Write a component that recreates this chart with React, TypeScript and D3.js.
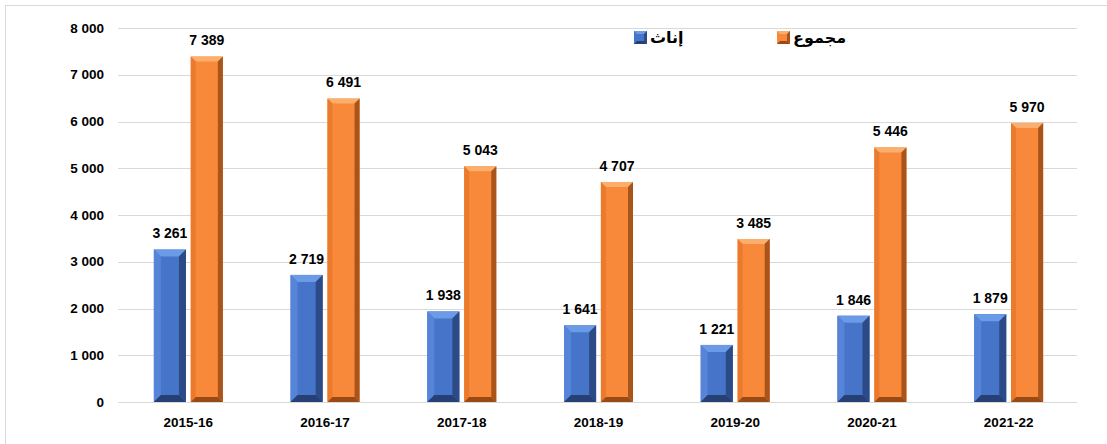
import { useEffect, useRef } from "react";
import * as d3 from "d3";

const years = ["2015-16", "2016-17", "2017-18", "2018-19", "2019-20", "2020-21", "2021-22"];
const females = [3261, 2719, 1938, 1641, 1221, 1846, 1879];
const totals = [7389, 6491, 5043, 4707, 3485, 5446, 5970];
const yTicks = [0, 1000, 2000, 3000, 4000, 5000, 6000, 7000, 8000];
const seriesNames = ["إناث", "مجموع"];

const W = 1107;
const H = 444;

// bevel palettes: face, top, left, right, bottom
const palettes = [
  { face: "#4674c8", top: "#6b9ae6", left: "#5684d8", right: "#2c4a86", bottom: "#263f74" },
  { face: "#f8883a", top: "#fcae6c", left: "#ec7a2c", right: "#a9541a", bottom: "#9a4a14" },
];

const fmt = (v: number) => d3.format(",")(v).replace(/,/g, " ");

export default function App() {
  const svgRef = useRef<SVGSVGElement>(null);

  useEffect(() => {
    if (!svgRef.current) return;
    const svg = d3.select(svgRef.current);
    svg.selectAll("*").remove();

    const margin = { top: 28, right: 30, bottom: 42, left: 120 };
    const font = "'Liberation Sans', 'DejaVu Sans', Arial, sans-serif";

    svg
      .append("rect")
      .attr("x", 5.5)
      .attr("y", 5.5)
      .attr("width", W - 4)
      .attr("height", H)
      .attr("fill", "#fff")
      .attr("stroke", "#d9d9d9");

    const x0 = d3
      .scaleBand<string>()
      .domain(years)
      .range([margin.left, W - margin.right]);
    const bw = x0.bandwidth();
    const x1 = d3
      .scaleBand<number>()
      .domain([0, 1])
      .range([bw / 2 - 34.5, bw / 2 + 34.5])
      .paddingInner(0.13);

    const y = d3
      .scaleLinear()
      .domain([0, 8000])
      .range([H - margin.bottom, margin.top]);

    // grid
    svg
      .append("g")
      .selectAll("line")
      .data(yTicks)
      .join("line")
      .attr("x1", margin.left - 2)
      .attr("x2", W - margin.right)
      .attr("y1", (d) => Math.round(y(d)) + 0.5)
      .attr("y2", (d) => Math.round(y(d)) + 0.5)
      .attr("stroke", "#d9d9d9")
      .attr("stroke-width", 1);

    // y labels
    svg
      .append("g")
      .selectAll("text")
      .data(yTicks)
      .join("text")
      .attr("x", 104)
      .attr("y", (d) => y(d))
      .attr("dy", "0.35em")
      .attr("text-anchor", "end")
      .attr("font-family", font)
      .attr("font-weight", "bold")
      .attr("font-size", 13.5)
      .attr("fill", "#000")
      .text((d) => fmt(d));

    // x labels
    svg
      .append("g")
      .selectAll("text")
      .data(years)
      .join("text")
      .attr("x", (d) => (x0(d) as number) + bw / 2)
      .attr("y", H - margin.bottom + 20)
      .attr("dy", "0.35em")
      .attr("text-anchor", "middle")
      .attr("font-family", font)
      .attr("font-weight", "bold")
      .attr("font-size", 13.5)
      .attr("fill", "#000")
      .text((d) => d);

    const series = [females, totals];
    const base = y(0);

    series.forEach((vals, si) => {
      const p = palettes[si];
      const g = svg.append("g");
      years.forEach((yr, i) => {
        const xl = (x0(yr) as number) + (x1(si) as number);
        const w = x1.bandwidth();
        const xr = xl + w;
        const yt = y(vals[i]);
        const yb = base;
        const b = si === 0 ? 7 : 5;
        const pts = (arr: number[][]) => arr.map((q) => q.join(",")).join(" ");
        const bar = g.append("g");
        bar.append("rect").attr("x", xl).attr("y", yt).attr("width", w).attr("height", yb - yt).attr("fill", p.face);
        bar.append("polygon").attr("points", pts([[xl, yt], [xr, yt], [xr - b, yt + b], [xl + b, yt + b]])).attr("fill", p.top);
        bar.append("polygon").attr("points", pts([[xl, yt], [xl + b, yt + b], [xl + b, yb - b], [xl, yb]])).attr("fill", p.left);
        bar.append("polygon").attr("points", pts([[xr, yt], [xr, yb], [xr - b, yb - b], [xr - b, yt + b]])).attr("fill", p.right);
        bar.append("polygon").attr("points", pts([[xl, yb], [xl + b, yb - b], [xr - b, yb - b], [xr, yb]])).attr("fill", p.bottom);

        g.append("text")
          .attr("x", xl + w / 2)
          .attr("y", yt - 16)
          .attr("dy", "0.35em")
          .attr("text-anchor", "middle")
          .attr("font-family", font)
          .attr("font-weight", "bold")
          .attr("font-size", 14)
          .attr("fill", "#000")
          .text(fmt(vals[i]));
      });
    });

    // legend
    const legendX = [634, 777];
    const legendY = 31;
    seriesNames.forEach((name, si) => {
      const p = palettes[si];
      const lx = legendX[si];
      const s = 13;
      const c = 3;
      const lg = svg.append("g");
      lg.append("rect").attr("x", lx).attr("y", legendY).attr("width", s).attr("height", s).attr("fill", p.face);
      lg.append("polygon").attr("points", `${lx},${legendY} ${lx + s},${legendY} ${lx + s - c},${legendY + c} ${lx + c},${legendY + c}`).attr("fill", p.top);
      lg.append("polygon").attr("points", `${lx + s},${legendY} ${lx + s},${legendY + s} ${lx + s - c},${legendY + s - c} ${lx + s - c},${legendY + c}`).attr("fill", p.right);
      lg.append("polygon").attr("points", `${lx},${legendY + s} ${lx + c},${legendY + s - c} ${lx + s - c},${legendY + s - c} ${lx + s},${legendY + s}`).attr("fill", p.bottom);
      lg.append("text")
        .attr("x", lx + s + 3)
        .attr("y", legendY + s / 2)
        .attr("dy", "0.35em")
        .attr("text-anchor", "start")
        .attr("direction", "ltr")
        .attr("font-family", "'DejaVu Sans', sans-serif")
        .attr("font-weight", "bold")
        .attr("font-size", 16)
        .attr("fill", "#000")
        .text(name);
    });
  }, []);

  return (
    <div style={{ position: "absolute", left: 0, top: 0 }}>
      <svg ref={svgRef} width={W} height={H} style={{ display: "block" }} />
    </div>
  );
}
